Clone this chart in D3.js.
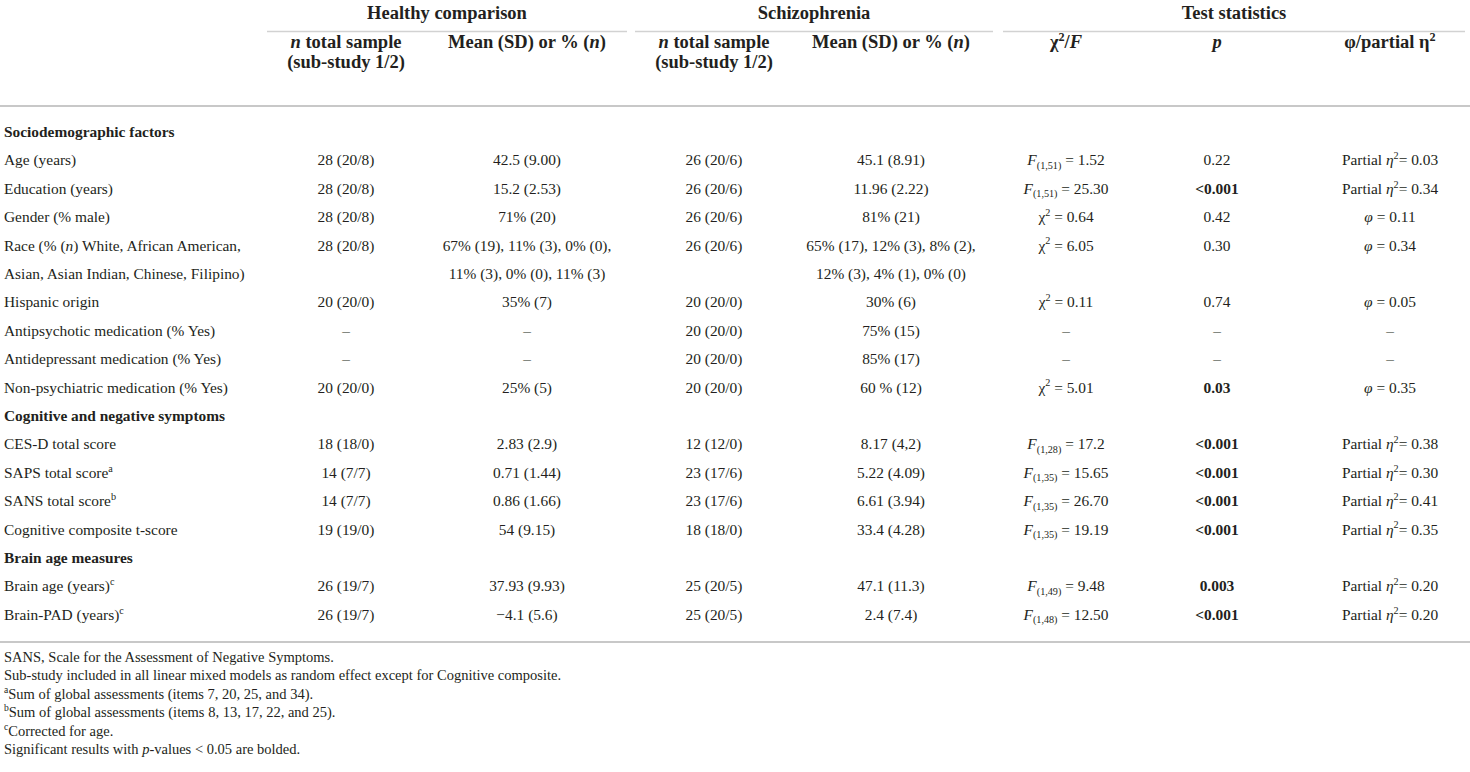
<!DOCTYPE html>
<html>
<head>
<meta charset="utf-8">
<script src="https://cdn.jsdelivr.net/npm/d3@7"></script>
<style>
  body { margin: 0; background: #fff; }
  svg text { font-family: "Liberation Serif", "Times New Roman", serif; fill: #231f20; }
</style>
</head>
<body>
<svg width="1470" height="772"></svg>
<script>
const svg = d3.select('svg')
const width = +svg.attr('width')

// markup: *italic*  ~bold~  ^{sup}  _{sub}  | = line break
const groups = ['Healthy comparison', 'Schizophrenia', 'Test statistics']
const colHeads = ['*n* total sample|(sub-study 1/2)', 'Mean (SD) or % (*n*)',
  '*n* total sample|(sub-study 1/2)', 'Mean (SD) or % (*n*)',
  'χ^{2}/*F*', '*p*', 'φ/partial η^{2}']
const sections = ['Sociodemographic factors', 'Cognitive and negative symptoms', 'Brain age measures']

const rowLabels = [
  'Sociodemographic factors', 'Age (years)', 'Education (years)', 'Gender (% male)',
  'Race (% (*n*) White, African American,', 'Asian, Asian Indian, Chinese, Filipino)',
  'Hispanic origin', 'Antipsychotic medication (% Yes)', 'Antidepressant medication (% Yes)',
  'Non-psychiatric medication (% Yes)',
  'Cognitive and negative symptoms', 'CES-D total score', 'SAPS total score^{a}',
  'SANS total score^{b}', 'Cognitive composite t-score',
  'Brain age measures', 'Brain age (years)^{c}', 'Brain-PAD (years)^{c}'
]
const hcN = ['', '28 (20/8)', '28 (20/8)', '28 (20/8)', '28 (20/8)', '', '20 (20/0)', '–', '–', '20 (20/0)',
  '', '18 (18/0)', '14 (7/7)', '14 (7/7)', '19 (19/0)', '', '26 (19/7)', '26 (19/7)']
const hcMean = ['', '42.5 (9.00)', '15.2 (2.53)', '71% (20)', '67% (19), 11% (3), 0% (0),',
  '11% (3), 0% (0), 11% (3)', '35% (7)', '–', '–', '25% (5)',
  '', '2.83 (2.9)', '0.71 (1.44)', '0.86 (1.66)', '54 (9.15)', '', '37.93 (9.93)', '−4.1 (5.6)']
const szN = ['', '26 (20/6)', '26 (20/6)', '26 (20/6)', '26 (20/6)', '', '20 (20/0)', '20 (20/0)', '20 (20/0)', '20 (20/0)',
  '', '12 (12/0)', '23 (17/6)', '23 (17/6)', '18 (18/0)', '', '25 (20/5)', '25 (20/5)']
const szMean = ['', '45.1 (8.91)', '11.96 (2.22)', '81% (21)', '65% (17), 12% (3), 8% (2),',
  '12% (3), 4% (1), 0% (0)', '30% (6)', '75% (15)', '85% (17)', '60 % (12)',
  '', '8.17 (4,2)', '5.22 (4.09)', '6.61 (3.94)', '33.4 (4.28)', '', '47.1 (11.3)', '2.4 (7.4)']
const testStat = ['', '*F*_{(1,51)} = 1.52', '*F*_{(1,51)} = 25.30', 'χ^{2} = 0.64', 'χ^{2} = 6.05', '',
  'χ^{2} = 0.11', '–', '–', 'χ^{2} = 5.01',
  '', '*F*_{(1,28)} = 17.2', '*F*_{(1,35)} = 15.65', '*F*_{(1,35)} = 26.70', '*F*_{(1,35)} = 19.19',
  '', '*F*_{(1,49)} = 9.48', '*F*_{(1,48)} = 12.50']
const pValues = ['', '0.22', '~<0.001~', '0.42', '0.30', '', '0.74', '–', '–', '~0.03~',
  '', '~<0.001~', '~<0.001~', '~<0.001~', '~<0.001~', '', '~0.003~', '~<0.001~']
const effect = ['', 'Partial *η*^{2}= 0.03', 'Partial *η*^{2}= 0.34', '*φ* = 0.11', '*φ* = 0.34', '',
  '*φ* = 0.05', '–', '–', '*φ* = 0.35',
  '', 'Partial *η*^{2}= 0.38', 'Partial *η*^{2}= 0.30', 'Partial *η*^{2}= 0.41', 'Partial *η*^{2}= 0.35',
  '', 'Partial *η*^{2}= 0.20', 'Partial *η*^{2}= 0.20']
const footnotes = [
  'SANS, Scale for the Assessment of Negative Symptoms.',
  'Sub-study included in all linear mixed models as random effect except for Cognitive composite.',
  '^{a}Sum of global assessments (items 7, 20, 25, and 34).',
  '^{b}Sum of global assessments (items 8, 13, 17, 22, and 25).',
  '^{c}Corrected for age.',
  'Significant results with *p*-values < 0.05 are bolded.'
]

const cells = [hcN, hcMean, szN, szMean, testStat, pValues, effect]

// layout
const bodySize = 15.4
const headSize = 18.5
const noteSize = 14.5
const x = d3.scaleOrdinal().domain(d3.range(7)).range([346, 527, 714, 891, 1066, 1217, 1390])
const y = d3.scaleLinear().domain([0, rowLabels.length - 1]).range([137, 619.8])
const yNote = d3.scaleLinear().domain([0, footnotes.length - 1]).range([662, 754])
const groupCols = [[0, 1], [2, 3], [4, 6]]
const groupRule = [[267, 627], [635, 993], [1003, 1465]]

// rich text helper
const rich = (text, str, fs) => {
  const tokens = str.match(/(\*[^*]+\*|~[^~]+~|\^\{[^}]*\}|_\{[^}]*\}|[^*~^_]+)/g) || []
  let offset = 0
  tokens.forEach(tok => {
    let txt = tok, target = 0, size = null, italic = false, bold = false
    if (tok.startsWith('^{')) { txt = tok.slice(2, -1); target = -fs * 0.4; size = fs * 0.66 }
    else if (tok.startsWith('_{')) { txt = tok.slice(2, -1); target = fs * 0.22; size = fs * 0.66 }
    else if (tok.startsWith('*')) { txt = tok.slice(1, -1); italic = true }
    else if (tok.startsWith('~')) { txt = tok.slice(1, -1); bold = true }
    const ts = text.append('tspan').text(txt)
    if (target !== offset) ts.attr('dy', target - offset)
    offset = target
    if (size) ts.style('font-size', size + 'px')
    if (italic) ts.style('font-style', 'italic')
    if (bold) ts.style('font-weight', 'bold')
  })
}

// group headers
const gh = svg.append('g')
groups.forEach((name, i) => {
  gh.append('text')
    .attr('x', (groupRule[i][0] + groupRule[i][1]) / 2)
    .attr('y', 19)
    .attr('text-anchor', 'middle')
    .style('font-size', headSize + 'px')
    .style('font-weight', 'bold')
    .text(name)
  gh.append('line')
    .attr('x1', groupRule[i][0]).attr('x2', groupRule[i][1])
    .attr('y1', 31.5).attr('y2', 31.5)
    .attr('stroke', '#d2d2d2').attr('stroke-width', 1.5)
})

// column headers
colHeads.forEach((h, i) => {
  h.split('|').forEach((line, j) => {
    const t = gh.append('text')
      .attr('x', x(i))
      .attr('y', 48 + j * 20)
      .attr('text-anchor', 'middle')
      .style('font-size', headSize + 'px')
      .style('font-weight', 'bold')
    rich(t, line, headSize)
  })
})

// rules
;[106, 642].forEach(yy => {
  svg.append('line')
    .attr('x1', 0).attr('x2', width)
    .attr('y1', yy).attr('y2', yy)
    .attr('stroke', '#c8c8c8').attr('stroke-width', 2)
})

// body rows
const body = svg.append('g')
rowLabels.forEach((label, r) => {
  const t = body.append('text')
    .attr('x', 4)
    .attr('y', y(r))
    .style('font-size', bodySize + 'px')
    .style('font-weight', sections.includes(label) ? 'bold' : null)
  rich(t, label, bodySize)
})

cells.forEach((col, c) => {
  col.forEach((v, r) => {
    if (!v) return
    const t = body.append('text')
      .attr('x', x(c))
      .attr('y', y(r))
      .attr('text-anchor', 'middle')
      .style('font-size', bodySize + 'px')
    rich(t, v, bodySize)
  })
})

// footnotes
const notes = svg.append('g')
footnotes.forEach((n, i) => {
  const t = notes.append('text')
    .attr('x', 4)
    .attr('y', yNote(i))
    .style('font-size', noteSize + 'px')
  rich(t, n, noteSize)
})
</script>
</body>
</html>
